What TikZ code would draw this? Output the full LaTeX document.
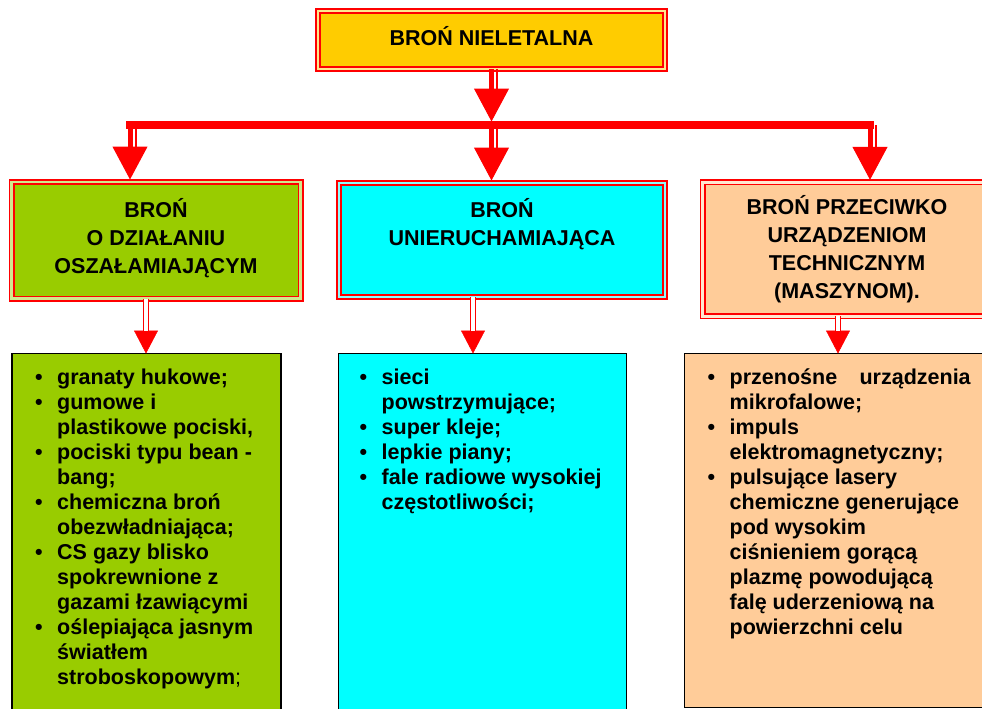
\documentclass[tikz,border=0pt]{standalone}
\usepackage{fontspec}
\setmainfont{Liberation Sans}
\usetikzlibrary{arrows.meta, positioning}

\definecolor{titlegold}{HTML}{FFCC00}
\definecolor{stungreen}{HTML}{99CC00}
\definecolor{holdcyan}{HTML}{00FFFF}
\definecolor{techpeach}{HTML}{FFCC99}

\newcommand{\listbul}{\strut\makebox[22pt][l]{\textbullet}}
\newcommand{\listind}{\hspace*{22pt}}

\begin{document}
\begin{tikzpicture}[x=1pt, y=-1pt,
    headbox/.style={draw=red, line width=1.8pt, double=#1!45!white, double distance=2.4pt, fill=#1, align=center, inner sep=0pt, outer sep=0pt, font=\bfseries\fontsize{21.5}{28}\selectfont},
    listbox/.style={draw=black, line width=1.5pt, fill=#1, inner sep=0pt, outer sep=0pt, anchor=north west},
    listtext/.style={anchor=north west, align=left, inner sep=0pt, font=\bfseries\fontsize{21.5}{25}\selectfont},
    bigarr/.style={postaction={draw, red, line width=5pt, shorten >=30pt},
        postaction={draw, red, line width=2pt, shorten >=30pt, transform canvas={xshift=5.5pt}},
        postaction={draw, red, line width=1pt, -{Triangle[length=33pt, width=35pt]}}},
    smallarr/.style={postaction={draw, red, line width=0.5pt, -{Triangle[length=23pt, width=24pt]}},
        postaction={draw, red, double=white, line width=1.5pt, double distance=3.5pt, shorten >=22.8pt}}]
    \fill[white] (0,0) rectangle (982,709);
    \useasboundingbox (0,0) rectangle (982,709);
    \clip (0,0) rectangle (982,709);

    % headings
    \node[headbox=titlegold, minimum width=347pt, minimum height=58pt] (top) at (491.5,40) {\strut BROŃ NIELETALNA};
    \node[headbox=stungreen, minimum width=289pt, minimum height=116.5pt] (stun) at (156,240.25) {\strut BROŃ\\O DZIAŁANIU\\OSZAŁAMIAJĄCYM\strut};
    \node[headbox=holdcyan, minimum width=326pt, minimum height=114pt] (hold) at (502,240) {\strut BROŃ\\UNIERUCHAMIAJĄCA\\\strut};
    \node[headbox=techpeach, minimum width=289pt, minimum height=134pt] (tech) at (847,249.3) {\strut BROŃ PRZECIWKO\\URZĄDZENIOM\\TECHNICZNYM\\(MASZYNOM).};

    % lists
    \node[listbox=stungreen, minimum width=269pt, minimum height=400pt] (stunlist) at (12,353.5) {};
    \node[listbox=holdcyan, minimum width=288pt, minimum height=400pt] (holdlist) at (338.5,353.5) {};
    \node[listbox=techpeach, minimum width=320pt, minimum height=354pt] (techlist) at (684.5,353.5) {};

    \node[listtext] (stunitems) at ([xshift=23pt, yshift=-13.5pt]stunlist.north west) {\listbul granaty hukowe;\\
        \listbul gumowe i\\
        \listind plastikowe pociski,\\
        \listbul pociski typu bean -\\
        \listind bang;\\
        \listbul chemiczna broń\\
        \listind obezwładniająca;\\
        \listbul CS gazy blisko\\
        \listind spokrewnione z\\
        \listind gazami łzawiącymi\\
        \listbul oślepiająca jasnym\\
        \listind światłem\\
        \listind stroboskopowym{\mdseries;}};
    \node[listtext] (holditems) at ([xshift=21pt, yshift=-13pt]holdlist.north west) {\listbul sieci\\
        \listind powstrzymujące;\\
        \listbul super kleje;\\
        \listbul lepkie piany;\\
        \listbul fale radiowe wysokiej\\
        \listind częstotliwości;};
    \node[listtext] (techitems) at ([xshift=23pt, yshift=-13pt]techlist.north west) {\listbul \makebox[241pt][s]{przenośne\hfill urządzenia}\\
        \listind mikrofalowe;\\
        \listbul impuls\\
        \listind elektromagnetyczny;\\
        \listbul pulsujące lasery\\
        \listind chemiczne generujące\\
        \listind pod wysokim\\
        \listind ciśnieniem gorącą\\
        \listind plazmę powodującą\\
        \listind falę uderzeniową na\\
        \listind powierzchni celu};

    % arrows
    \coordinate (barL) at (130,125);
    \coordinate (barR) at (870,125);
    \draw[red, line width=7.5pt, line cap=rect] (barL) -- (barR);
    \path[bigarr, shorten >=3.5pt] (top.south) -- (top.south |- barL);
    \path[bigarr, shorten >=2.5pt] (top.south |- barL) -- (top.south |- hold.north);
    \path[bigarr, shorten >=2.5pt] (barL) -- (barL |- stun.north);
    \path[bigarr, shorten >=2.5pt] (barR) -- (barR |- tech.north);

    \coordinate (stunout) at ([xshift=-10pt]stun.south);
    \coordinate (holdout) at ([xshift=-29pt]hold.south);
    \coordinate (techout) at ([xshift=-9pt]tech.south);
    \path[smallarr] (stunout) -- (stunout |- stunlist.north);
    \path[smallarr] (holdout) -- (holdout |- holdlist.north);
    \path[smallarr] (techout) -- (techout |- techlist.north);
\end{tikzpicture}
\end{document}
